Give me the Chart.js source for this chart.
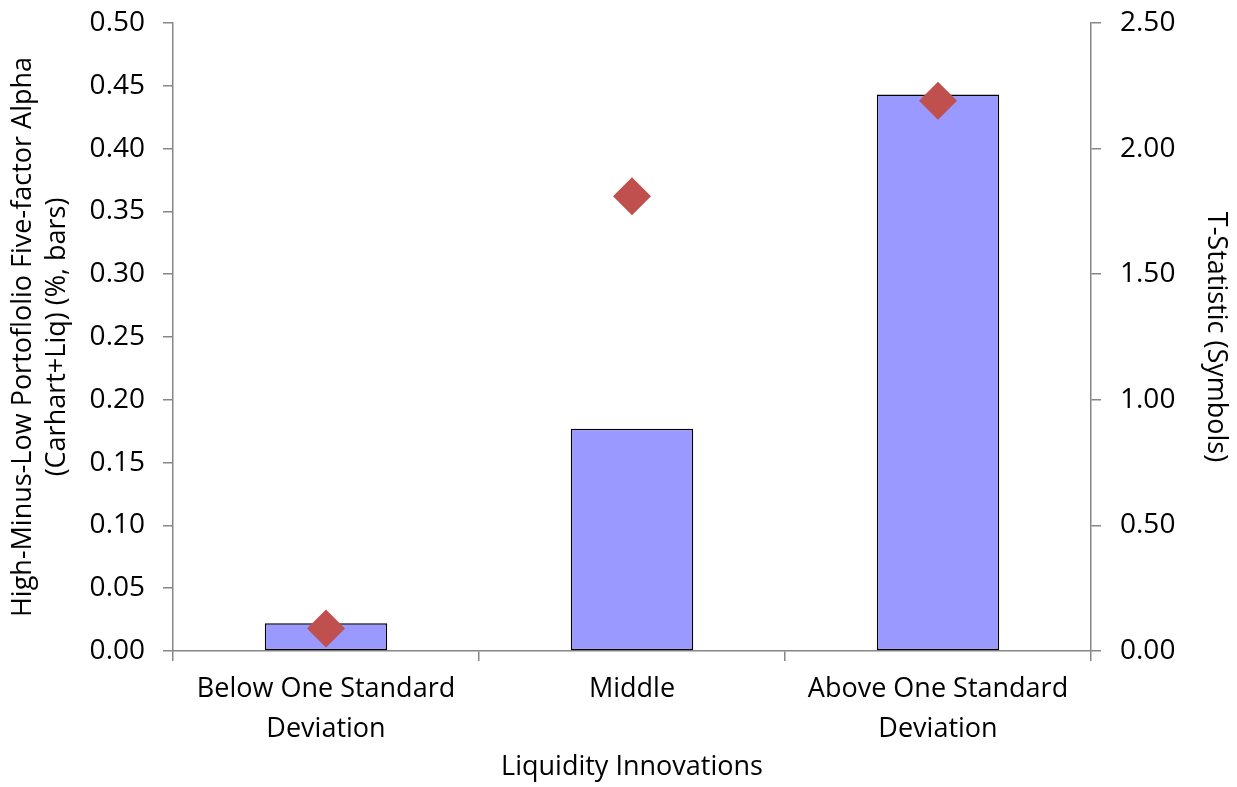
<!DOCTYPE html>
<html>
<head>
<meta charset="utf-8">
<script src="https://cdn.jsdelivr.net/npm/chart.js@4.4.1/dist/chart.umd.min.js"></script>
<style>
  html, body { margin: 0; padding: 0; background: #ffffff; }
  #wrap { width: 1237px; height: 787px; }
</style>
</head>
<body>
<div id="wrap"><canvas id="c" width="1237" height="787"></canvas></div>
<script>
// Liquidity-innovation groups on the category axis
const categories = [
  ['Below One Standard', 'Deviation'],
  'Middle',
  ['Above One Standard', 'Deviation']
];
// High-minus-low five-factor alpha (%) — bars, left axis
const alphaValues = [0.022, 0.177, 0.443];
// T-statistics — diamond symbols, right axis
const tStatValues = [0.09, 1.81, 2.19];

const FONT = '"Open Sans"';
const AXIS_GREY = '#868686';
const TEXT_SIZE = 27;
const TICK_SIZE = 28;

Chart.defaults.font.family = FONT;
Chart.defaults.color = '#000000';

// vertical axes: fixed box width, no extra label overflow padding
const fixVertical = (width) => (s) => {
  s.width = width;
  s.paddingTop = 0;
  s.paddingBottom = 0;
};

new Chart(document.getElementById('c'), {
  data: {
    labels: categories,
    datasets: [
      {
        type: 'line',
        label: 'T-Statistic',
        data: tStatValues,
        yAxisID: 'y1',
        showLine: false,
        pointStyle: 'rectRot',
        pointRadius: 19,
        pointHoverRadius: 19,
        pointBackgroundColor: '#C0504D',
        pointBorderColor: '#C0504D',
        pointBorderWidth: 0,
        order: 0
      },
      {
        type: 'bar',
        label: 'Alpha',
        data: alphaValues,
        yAxisID: 'y',
        backgroundColor: '#9999FF',
        borderColor: '#000000',
        borderWidth: 1.5,
        borderSkipped: false,
        categoryPercentage: 0.4,
        barPercentage: 1.0,
        order: 1
      }
    ]
  },
  options: {
    responsive: false,
    animation: false,
    layout: { padding: { top: 23, left: 0, right: 0, bottom: 0 } },
    plugins: {
      legend: { display: false },
      tooltip: { enabled: false }
    },
    scales: {
      x: {
        type: 'category',
        offset: true,
        grid: {
          offset: true,
          drawOnChartArea: false,
          drawTicks: true,
          tickLength: 10,
          color: AXIS_GREY,
          lineWidth: 1.5
        },
        border: { display: true, color: AXIS_GREY, width: 1.5 },
        ticks: {
          font: { size: TEXT_SIZE, family: FONT, lineHeight: 1.48 },
          padding: 8,
          maxRotation: 0,
          autoSkip: false
        },
        title: {
          display: true,
          text: 'Liquidity Innovations',
          font: { size: TEXT_SIZE, family: FONT, lineHeight: 1.0 },
          padding: { top: 0, bottom: 6 }
        },
        afterFit: (s) => { s.height = 136; s.paddingLeft = 0; s.paddingRight = 0; }
      },
      y: {
        position: 'left',
        min: 0,
        max: 0.5,
        ticks: {
          stepSize: 0.05,
          font: { size: TICK_SIZE, family: FONT },
          padding: 18,
          callback: (v) => Number(v).toFixed(2)
        },
        grid: {
          drawOnChartArea: false,
          drawTicks: true,
          tickLength: 10,
          color: AXIS_GREY,
          lineWidth: 1.5
        },
        border: { display: true, color: AXIS_GREY, width: 1.5 },
        title: {
          display: true,
          text: ['High-Minus-Low Portoflolio Five-factor Alpha', '(Carhart+Liq) (%, bars)'],
          font: { size: TEXT_SIZE, family: FONT, lineHeight: 1.26 },
          padding: { top: 6, bottom: 0 }
        },
        afterFit: fixVertical(173)
      },
      y1: {
        position: 'right',
        min: 0,
        max: 2.5,
        ticks: {
          stepSize: 0.5,
          font: { size: TICK_SIZE, family: FONT },
          padding: 19,
          callback: (v) => Number(v).toFixed(2)
        },
        grid: {
          drawOnChartArea: false,
          drawTicks: true,
          tickLength: 10,
          color: AXIS_GREY,
          lineWidth: 1.5
        },
        border: { display: true, color: AXIS_GREY, width: 1.5 },
        title: {
          display: true,
          text: 'T-Statistic (Symbols)',
          font: { size: TEXT_SIZE, family: FONT, lineHeight: 1.0 },
          padding: { top: 8, bottom: 0 }
        },
        afterFit: fixVertical(146)
      }
    }
  }
});
</script>
</body>
</html>
